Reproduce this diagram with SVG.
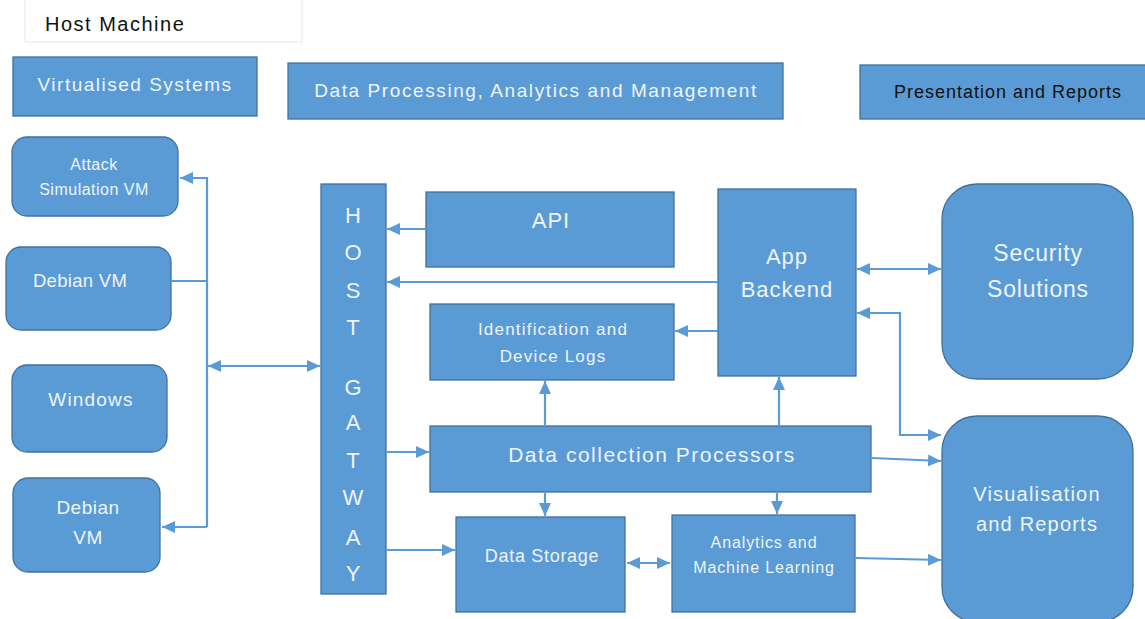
<svg xmlns="http://www.w3.org/2000/svg" width="1145" height="619" viewBox="0 0 1145 619">
<style>
.box{fill:#5B9BD5;stroke:#41719C;stroke-width:1.3}
.t{font-family:"Liberation Sans",Arial,sans-serif;fill:#EEF4FB;text-anchor:middle}
.c{fill:none;stroke:#5B9BD5;stroke-width:2.2}
</style>
<defs>
<marker id="ah" markerUnits="userSpaceOnUse" markerWidth="14" markerHeight="14" viewBox="0 0 14 14" refX="13" refY="7" orient="auto-start-reverse">
<path d="M0,1 L13,7 L0,13 Z" fill="#5B9BD5"/>
</marker>
</defs>
<rect width="1145" height="619" fill="#ffffff"/>
<g id="host-machine">
<rect x="25" y="-1" width="277" height="43" fill="#ffffff" stroke="#e8e8e8" stroke-width="1"/>
<text x="45" y="31" font-family="Liberation Sans,Arial,sans-serif" font-size="20" letter-spacing="1.5" fill="#111111">Host Machine</text>
</g>
<g id="virtualised-systems">
<rect class="box" x="13" y="57" width="244" height="59"/>
<text class="t" x="135" y="91" font-size="19" letter-spacing="1.5">Virtualised Systems</text>
</g>
<g id="data-processing">
<rect class="box" x="288" y="63" width="495" height="56"/>
<text class="t" x="536" y="97" font-size="19" letter-spacing="1.6">Data Processing, Analytics and Management</text>
</g>
<g id="presentation">
<rect class="box" x="860" y="65" width="290" height="54"/>
<text x="1008" y="98" font-family="Liberation Sans,Arial,sans-serif" font-size="18" fill="#111111" text-anchor="middle" letter-spacing="1">Presentation and Reports</text>
</g>
<g id="attack-vm">
<rect class="box" x="12" y="137" width="166" height="79" rx="15"/>
<text class="t" x="94" y="170" font-size="16" letter-spacing="0.5">Attack</text>
<text class="t" x="94" y="195" font-size="16" letter-spacing="0.5">Simulation VM</text>
</g>
<g id="debian-vm-1">
<rect class="box" x="6" y="247" width="165" height="83" rx="15"/>
<text class="t" x="80" y="287" font-size="18.5" letter-spacing="0.3">Debian VM</text>
</g>
<g id="windows">
<rect class="box" x="12" y="365" width="155" height="87" rx="15"/>
<text class="t" x="91" y="406" font-size="19" letter-spacing="1.2">Windows</text>
</g>
<g id="debian-vm-2">
<rect class="box" x="13" y="478" width="147" height="94" rx="15"/>
<text class="t" x="88" y="514" font-size="19" letter-spacing="0.5">Debian</text>
<text class="t" x="88" y="544" font-size="19" letter-spacing="0.5">VM</text>
</g>
<g id="host-gateway">
<rect class="box" x="321" y="184" width="65" height="410"/>
<g class="t" font-size="22">
<text x="353" y="223">H</text>
<text x="353" y="260">O</text>
<text x="353" y="298">S</text>
<text x="353" y="335">T</text>
<text x="353" y="395">G</text>
<text x="353" y="430">A</text>
<text x="353" y="468">T</text>
<text x="353" y="505">W</text>
<text x="353" y="545">A</text>
<text x="353" y="581">Y</text>
</g>
</g>
<g id="api">
<rect class="box" x="426" y="192" width="248" height="75"/>
<text class="t" x="551" y="228" font-size="22" letter-spacing="1">API</text>
</g>
<g id="app-backend">
<rect class="box" x="718" y="189" width="138" height="187"/>
<text class="t" x="787" y="264" font-size="22" letter-spacing="1">App</text>
<text class="t" x="787" y="297" font-size="22" letter-spacing="1">Backend</text>
</g>
<g id="id-logs">
<rect class="box" x="430" y="304" width="244" height="76"/>
<text class="t" x="553" y="335" font-size="17" letter-spacing="1.2">Identification and</text>
<text class="t" x="553" y="362" font-size="17" letter-spacing="1.2">Device Logs</text>
</g>
<g id="data-collection">
<rect class="box" x="430" y="426" width="441" height="66"/>
<text class="t" x="652" y="462" font-size="21" letter-spacing="1.5">Data collection Processors</text>
</g>
<g id="data-storage">
<rect class="box" x="456" y="517" width="169" height="95"/>
<text class="t" x="542" y="562" font-size="18" letter-spacing="0.7">Data Storage</text>
</g>
<g id="analytics">
<rect class="box" x="672" y="515" width="183" height="97"/>
<text class="t" x="764" y="548" font-size="16" letter-spacing="0.9">Analytics and</text>
<text class="t" x="764" y="573" font-size="16" letter-spacing="0.9">Machine Learning</text>
</g>
<g id="security">
<rect class="box" x="942" y="184" width="191" height="195" rx="35"/>
<text class="t" x="1038" y="261" font-size="23" letter-spacing="0.8">Security</text>
<text class="t" x="1038" y="297" font-size="23" letter-spacing="0.8">Solutions</text>
</g>
<g id="visualisation">
<rect class="box" x="942" y="416" width="191" height="206" rx="35"/>
<text class="t" x="1037" y="501" font-size="20" letter-spacing="1.2">Visualisation</text>
<text class="t" x="1037" y="531" font-size="20" letter-spacing="1.2">and Reports</text>
</g>
<g id="connectors">
<path class="c" d="M207,527 V178 H180" marker-end="url(#ah)"/>
<path class="c" d="M207,527 H162" marker-end="url(#ah)"/>
<path class="c" d="M171,281 H207"/>
<path class="c" d="M208,366 H320" marker-start="url(#ah)" marker-end="url(#ah)"/>
<path class="c" d="M426,229 H387" marker-end="url(#ah)"/>
<path class="c" d="M718,282 H387" marker-end="url(#ah)"/>
<path class="c" d="M718,331 H675" marker-end="url(#ah)"/>
<path class="c" d="M545,425 V381" marker-end="url(#ah)"/>
<path class="c" d="M779,425 V377" marker-end="url(#ah)"/>
<path class="c" d="M387,452 H429" marker-end="url(#ah)"/>
<path class="c" d="M387,550 H455" marker-end="url(#ah)"/>
<path class="c" d="M545,493 V516" marker-end="url(#ah)"/>
<path class="c" d="M777,493 V514" marker-end="url(#ah)"/>
<path class="c" d="M627,563 H670" marker-start="url(#ah)" marker-end="url(#ah)"/>
<path class="c" d="M856,558 L941,560" marker-end="url(#ah)"/>
<path class="c" d="M872,458 L941,461" marker-end="url(#ah)"/>
<path class="c" d="M857,269 H941" marker-start="url(#ah)" marker-end="url(#ah)"/>
<path class="c" d="M857,313 H900 V435 H941" marker-start="url(#ah)" marker-end="url(#ah)"/>
</g>
</svg>
